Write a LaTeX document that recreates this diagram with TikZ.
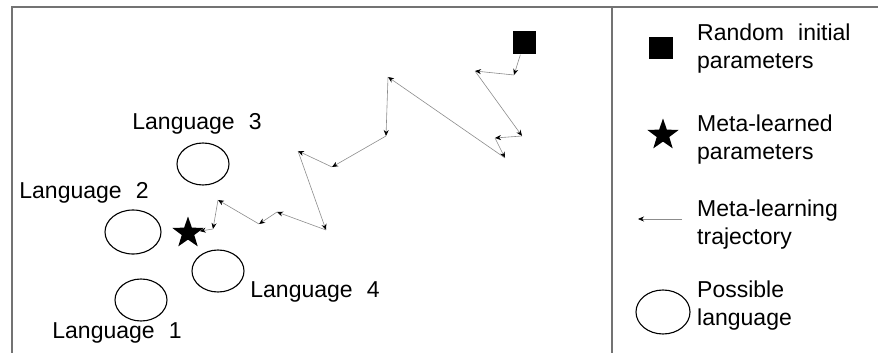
\documentclass[tikz,border=0pt]{standalone}
\usepackage{fontspec}
\setmainfont{Liberation Sans}[WordSpace=2.2]
\usetikzlibrary{shapes.geometric,arrows.meta}

\tikzset{
  lingua/.style={draw, ellipse, line width=1.1pt, minimum width=52pt, minimum height=42pt, inner sep=0pt},
  passo/.style={draw=black!45, line width=0.6pt, -{Stealth[length=6pt,width=5pt,color=black]}},
  testo/.style={font=\fontsize{23}{28}\selectfont, inner sep=0pt, align=left},
  quadrato/.style={fill=black, minimum size=23pt, inner sep=0pt},
  stella/.style={star, star points=5, star point ratio=2.5, fill=black, minimum size=33pt, inner sep=0pt}
}

\begin{document}
\begin{tikzpicture}[x=1pt, y=-1pt]

    \useasboundingbox (0, 0) rectangle (878, 353);

    % Cornice e separatore della legenda
    \draw[black!55, line width=1.3pt] (12, 353) -- (12, 7) -- (878, 7);
    \draw[black!55, line width=1.3pt] (612, 7) -- (612, 353);

    % Lingue possibili
    \node[lingua] (l1) at (141, 300) {};
    \node[lingua, minimum width=56pt, minimum height=44pt] (l2) at (133, 232) {};
    \node[lingua] (l3) at (203, 164) {};
    \node[lingua] (l4) at (218, 271) {};
    \node[testo] (t1) at (117, 333) {Language 1};
    \node[testo] (t2) at (84, 193) {Language 2};
    \node[testo] (t3) at (197, 124) {Language 3};
    \node[testo] (t4) at (315, 292) {Language 4};

    % Parametri iniziali e meta-appresi
    \node[quadrato] (sq) at (524, 43) {};
    \node[stella] (st) at (188, 233) {};

    % Punti della traiettoria
    \coordinate (p1) at (514, 75);
    \coordinate (p2) at (475, 71);
    \coordinate (p3) at (522, 136);
    \coordinate (p4) at (495, 138);
    \coordinate (p5) at (505, 158);
    \coordinate (p6) at (388, 77);
    \coordinate (p7) at (386, 136);
    \coordinate (p8) at (332, 167);
    \coordinate (p9) at (298, 151);
    \coordinate (p10) at (326, 230);
    \coordinate (p11) at (277, 212);
    \coordinate (p12) at (259, 224);
    \coordinate (p13) at (218, 200);
    \coordinate (p14) at (213, 229);

    % Traiettoria di meta-apprendimento
    \draw[passo] (sq) -- (p1);
    \draw[passo] (p1) -- (p2);
    \draw[passo] (p2) -- (p3);
    \draw[passo] (p3) -- (p4);
    \draw[passo] (p4) -- (p5);
    \draw[passo] (p5) -- (p6);
    \draw[passo] (p6) -- (p7);
    \draw[passo] (p7) -- (p8);
    \draw[passo] (p8) -- (p9);
    \draw[passo] (p9) -- (p10);
    \draw[passo] (p10) -- (p11);
    \draw[passo] (p11) -- (p12);
    \draw[passo] (p12) -- (p13);
    \draw[passo] (p13) -- (p14);
    \draw[passo] (p14) -- (st);

    % Legenda
    \node[quadrato, minimum width=24pt, minimum height=22pt] (legsq) at (661, 48) {};
    \node[testo, anchor=west] (legsqt) at (697, 49) {Random initial\\parameters};

    \node[stella] (legst) at (663, 135) {};
    \node[testo, anchor=west] (legstt) at (697, 140) {Meta-learned\\parameters};

    \coordinate (legfrom) at (682, 219);
    \coordinate (legto) at (638, 219);
    \draw[passo] (legfrom) -- (legto);
    \node[testo, anchor=west] (legpt) at (697, 225) {Meta-learning\\trajectory};

    \node[lingua, minimum width=54pt, minimum height=44pt] (legl) at (663, 312) {};
    \node[testo, anchor=west] (leglt) at (697, 306) {Possible\\language};

\end{tikzpicture}
\end{document}
